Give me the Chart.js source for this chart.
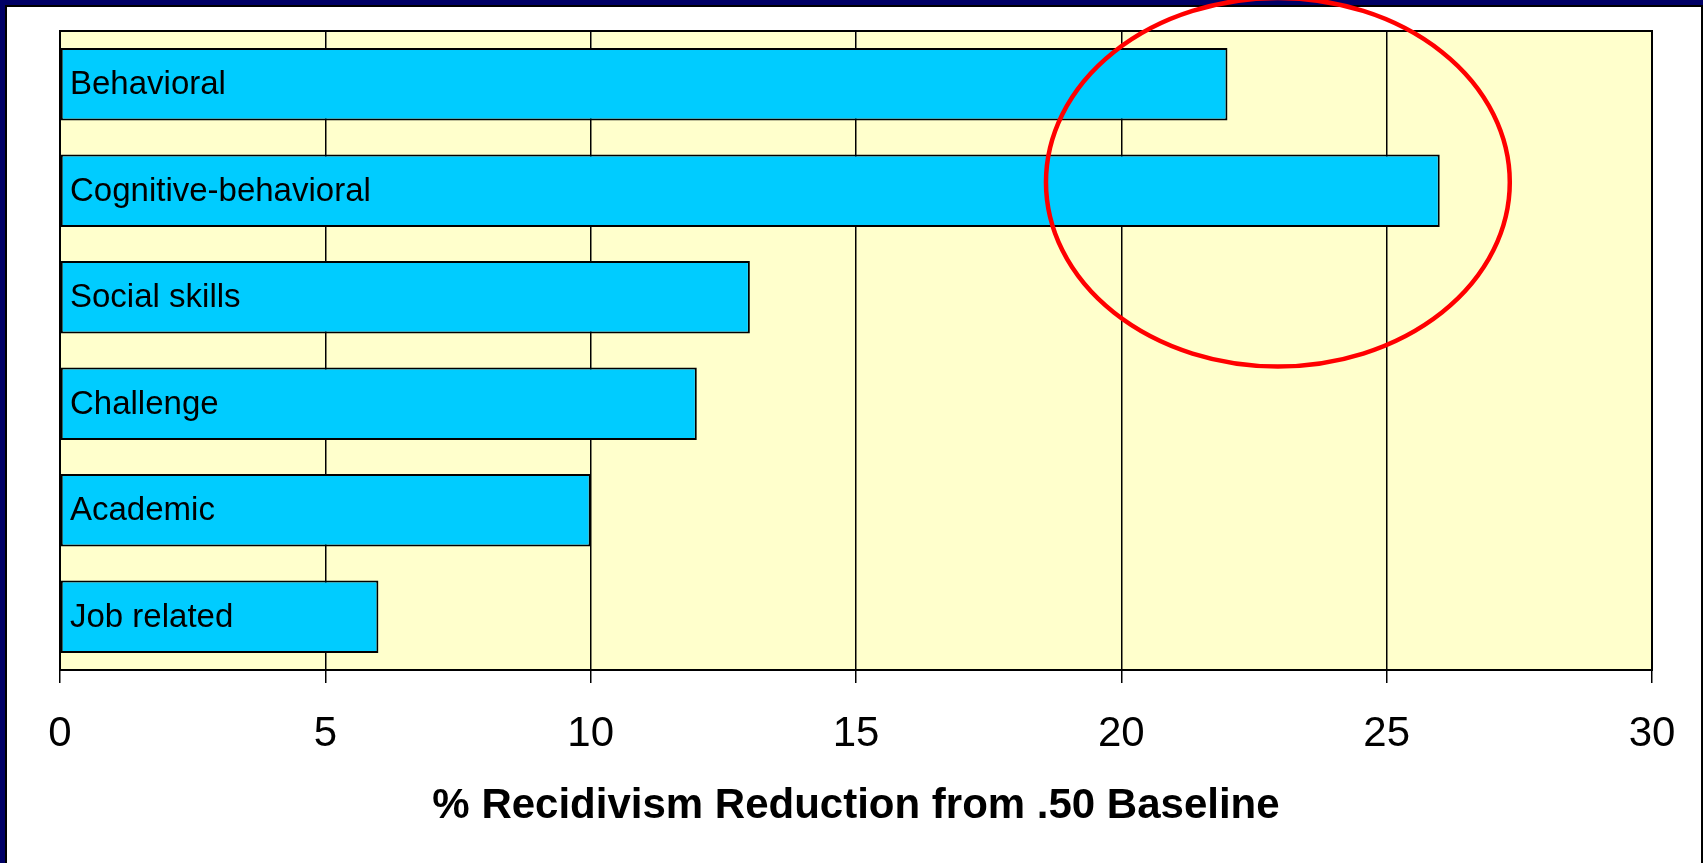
<!DOCTYPE html>
<html>
<head>
<meta charset="utf-8">
<script src="https://cdn.jsdelivr.net/npm/chart.js@4.4.1/dist/chart.umd.min.js"></script>
<style>
  html, body { margin: 0; padding: 0; background: #000066; overflow: hidden; }
  #frame { position: absolute; left: 5px; top: 5px; width: 1694px; height: 900px;
           border: 2px solid #000; background: #fff; }
  #wrap { position: absolute; left: 0; top: 0; width: 1703px; height: 863px; }
</style>
</head>
<body>
<div id="frame"></div>
<div id="wrap"><canvas id="recidivism"></canvas></div>
<script>
// Data block
const programTypes = ['Behavioral', 'Cognitive-behavioral', 'Social skills', 'Challenge', 'Academic', 'Job related'];
const reductionValues = [22, 26, 13, 12, 10, 6];
const xTickValues = [0, 5, 10, 15, 20, 25, 30];
const axisTitle = '% Recidivism Reduction from .50 Baseline';
// highlight ring: centre (value, category index) and radii in the same units
const ringCentre = [22.95, 0.92];
const ringRadius = [4.37, 1.73];

// Plot background + frame plugin
const plotBackground = {
    id: 'plotBackground',
    beforeDraw(chart) {
        const {ctx, chartArea: a} = chart;
        ctx.save();
        ctx.fillStyle = '#FFFFCC';
        ctx.fillRect(a.left, a.top, a.right - a.left, a.bottom - a.top);
        ctx.restore();
    },
    beforeDatasetsDraw(chart) {
        const {ctx, chartArea: a} = chart;
        ctx.save();
        ctx.strokeStyle = '#000';
        ctx.lineWidth = 2;
        ctx.strokeRect(a.left, a.top, a.right - a.left, a.bottom - a.top);
        ctx.restore();
    }
};

// Labels written inside the bars
const barLabels = {
    id: 'barLabels',
    afterDatasetsDraw(chart) {
        const {ctx, chartArea: a} = chart;
        const meta = chart.getDatasetMeta(0);
        ctx.save();
        ctx.font = '33px "Liberation Sans", Arial, sans-serif';
        ctx.fillStyle = '#000';
        ctx.textBaseline = 'middle';
        ctx.textAlign = 'left';
        meta.data.forEach((bar, i) => {
            ctx.fillText(chart.data.labels[i], a.left + 10, bar.y + 1);
        });
        ctx.restore();
    }
};

// Red ellipse around the top bars
const highlightRing = {
    id: 'highlightRing',
    afterDraw(chart) {
        const {ctx, scales: {x, y}} = chart;
        const cx = x.getPixelForValue(ringCentre[0]);
        const cy = y.getPixelForValue(ringCentre[1]);
        const rx = x.getPixelForValue(ringCentre[0] + ringRadius[0]) - cx;
        const ry = y.getPixelForValue(ringCentre[1] + ringRadius[1]) - cy;
        ctx.save();
        ctx.strokeStyle = '#FF0000';
        ctx.lineWidth = 4.5;
        ctx.beginPath();
        ctx.ellipse(cx, cy, rx, ry, 0, 0, Math.PI * 2);
        ctx.stroke();
        ctx.restore();
    }
};

const recidivismConfig = {
    type: 'bar',
    data: {
        labels: programTypes,
        datasets: [{
            data: reductionValues,
            backgroundColor: '#00CCFF',
            borderColor: '#000',
            borderWidth: 2,
            borderSkipped: false,
            barPercentage: 0.68,
            categoryPercentage: 1
        }]
    },
    options: {
        indexAxis: 'y',
        responsive: false,
        animation: false,
        layout: {
            padding: {left: 60, right: 51, top: 31, bottom: 0}
        },
        plugins: {
            legend: {display: false},
            tooltip: {enabled: false}
        },
        scales: {
            x: {
                min: 0,
                max: 30,
                afterBuildTicks: scale => {
                    scale.ticks = xTickValues.map(v => ({value: v}));
                },
                afterFit: scale => { scale.height = 193; },
                grid: {
                    color: '#000',
                    lineWidth: 1.5,
                    drawTicks: true,
                    tickLength: 13
                },
                border: {display: true, color: '#000', width: 2},
                ticks: {
                    color: '#000',
                    font: {family: '"Liberation Sans", Arial, sans-serif', size: 42},
                    padding: 26,
                    maxRotation: 0
                },
                title: {
                    display: true,
                    text: axisTitle,
                    color: '#000',
                    font: {family: '"Liberation Sans", Arial, sans-serif', size: 42, weight: 'bold'},
                    padding: {top: 0, bottom: 31}
                }
            },
            y: {
                display: false,
                grid: {display: false}
            }
        }
    },
    plugins: [plotBackground, barLabels, highlightRing]
};

const canvas = document.getElementById('recidivism');
canvas.width = 1703;
canvas.height = 863;
const recidivismChart = new Chart(canvas, recidivismConfig);
</script>
</body>
</html>
